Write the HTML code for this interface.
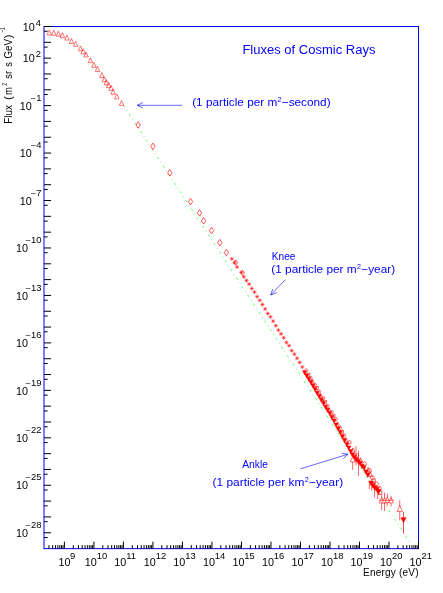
<!DOCTYPE html>
<html><head><meta charset="utf-8"><title>Fluxes of Cosmic Rays</title>
<style>
html,body{margin:0;padding:0;background:#fff;}
svg{display:block;font-family:"Liberation Sans",sans-serif;will-change:transform;}
</style></head><body>
<svg width="443" height="593" viewBox="0 0 443 593">
<rect width="443" height="593" fill="#fff"/>
<line x1="123.5" y1="105.30" x2="410" y2="542.64" stroke="#00ff00" stroke-width="0.9" stroke-dasharray="2.4 3.4 1 3.5" opacity="0.7"/>
<path d="M47.05 34.95L51.55 34.95L49.30 29.96Z" fill="none" stroke="#ff0000" stroke-width="0.55"/>
<path d="M51.55 35.25L56.05 35.25L53.80 30.26Z" fill="none" stroke="#ff0000" stroke-width="0.55"/>
<path d="M56.15 36.15L60.65 36.15L58.40 31.16Z" fill="none" stroke="#ff0000" stroke-width="0.55"/>
<path d="M60.15 37.75L64.65 37.75L62.40 32.76Z" fill="none" stroke="#ff0000" stroke-width="0.55"/>
<path d="M64.65 40.05L69.15 40.05L66.90 35.06Z" fill="none" stroke="#ff0000" stroke-width="0.55"/>
<path d="M69.25 43.45L73.75 43.45L71.50 38.46Z" fill="none" stroke="#ff0000" stroke-width="0.55"/>
<path d="M73.45 46.35L77.95 46.35L75.70 41.36Z" fill="none" stroke="#ff0000" stroke-width="0.55"/>
<path d="M78.25 50.85L82.75 50.85L80.50 45.86Z" fill="none" stroke="#ff0000" stroke-width="0.55"/>
<path d="M80.95 53.85L85.45 53.85L83.20 48.86Z" fill="none" stroke="#ff0000" stroke-width="0.55"/>
<path d="M83.85 56.95L88.35 56.95L86.10 51.96Z" fill="none" stroke="#ff0000" stroke-width="0.55"/>
<path d="M88.15 62.65L92.65 62.65L90.40 57.66Z" fill="none" stroke="#ff0000" stroke-width="0.55"/>
<path d="M91.75 67.35L96.25 67.35L94.00 62.36Z" fill="none" stroke="#ff0000" stroke-width="0.55"/>
<path d="M95.35 71.45L99.85 71.45L97.60 66.46Z" fill="none" stroke="#ff0000" stroke-width="0.55"/>
<path d="M99.65 77.55L104.15 77.55L101.90 72.56Z" fill="none" stroke="#ff0000" stroke-width="0.55"/>
<path d="M102.15 81.75L106.65 81.75L104.40 76.76Z" fill="none" stroke="#ff0000" stroke-width="0.55"/>
<path d="M104.15 84.75L108.65 84.75L106.40 79.76Z" fill="none" stroke="#ff0000" stroke-width="0.55"/>
<path d="M106.45 87.45L110.95 87.45L108.70 82.46Z" fill="none" stroke="#ff0000" stroke-width="0.55"/>
<path d="M108.75 90.35L113.25 90.35L111.00 85.36Z" fill="none" stroke="#ff0000" stroke-width="0.55"/>
<path d="M110.95 94.25L115.45 94.25L113.20 89.26Z" fill="none" stroke="#ff0000" stroke-width="0.55"/>
<path d="M114.55 98.85L119.05 98.85L116.80 93.86Z" fill="none" stroke="#ff0000" stroke-width="0.55"/>
<path d="M119.35 105.45L123.85 105.45L121.60 100.46Z" fill="none" stroke="#ff0000" stroke-width="0.55"/>
<path d="M136.02 125.00L138.20 121.70L140.38 125.00L138.20 128.30Z" fill="none" stroke="#ff0000" stroke-width="0.65"/>
<path d="M150.72 146.40L152.90 143.10L155.08 146.40L152.90 149.70Z" fill="none" stroke="#ff0000" stroke-width="0.65"/>
<path d="M167.62 172.80L169.80 169.50L171.98 172.80L169.80 176.10Z" fill="none" stroke="#ff0000" stroke-width="0.65"/>
<path d="M188.32 201.60L190.50 198.30L192.68 201.60L190.50 204.90Z" fill="none" stroke="#ff0000" stroke-width="0.65"/>
<path d="M197.32 212.90L199.50 209.60L201.68 212.90L199.50 216.20Z" fill="none" stroke="#ff0000" stroke-width="0.65"/>
<path d="M201.42 220.80L203.60 217.50L205.78 220.80L203.60 224.10Z" fill="none" stroke="#ff0000" stroke-width="0.65"/>
<path d="M209.32 230.50L211.50 227.20L213.68 230.50L211.50 233.80Z" fill="none" stroke="#ff0000" stroke-width="0.65"/>
<path d="M217.62 242.70L219.80 239.40L221.98 242.70L219.80 246.00Z" fill="none" stroke="#ff0000" stroke-width="0.65"/>
<path d="M224.22 252.50L226.40 249.20L228.58 252.50L226.40 255.80Z" fill="none" stroke="#ff0000" stroke-width="0.65"/>
<path d="M229.80 258.82H233.80M231.80 256.82V260.82M230.40 257.42L233.20 260.22M230.40 260.22L233.20 257.42" stroke="#ff0000" stroke-width="0.55" fill="none"/>
<path d="M232.46 262.57H236.46M234.46 260.57V264.57M233.06 261.17L235.86 263.97M233.06 263.97L235.86 261.17" stroke="#ff0000" stroke-width="0.55" fill="none"/>
<path d="M235.12 266.99H239.12M237.12 264.99V268.99M235.72 265.59L238.52 268.39M235.72 268.39L238.52 265.59" stroke="#ff0000" stroke-width="0.55" fill="none"/>
<path d="M239.18 272.39H243.18M241.18 270.39V274.39M239.78 270.99L242.58 273.79M239.78 273.79L242.58 270.99" stroke="#ff0000" stroke-width="0.55" fill="none"/>
<path d="M241.84 276.77H245.84M243.84 274.77V278.77M242.44 275.37L245.24 278.17M242.44 278.17L245.24 275.37" stroke="#ff0000" stroke-width="0.55" fill="none"/>
<path d="M244.50 280.52H248.50M246.50 278.52V282.52M245.10 279.12L247.90 281.92M245.10 281.92L247.90 279.12" stroke="#ff0000" stroke-width="0.55" fill="none"/>
<path d="M247.16 284.13H251.16M249.16 282.13V286.13M247.76 282.73L250.56 285.53M247.76 285.53L250.56 282.73" stroke="#ff0000" stroke-width="0.55" fill="none"/>
<path d="M249.82 288.50H253.82M251.82 286.50V290.50M250.42 287.10L253.22 289.90M250.42 289.90L253.22 287.10" stroke="#ff0000" stroke-width="0.55" fill="none"/>
<path d="M252.48 292.11H256.48M254.48 290.11V294.11M253.08 290.71L255.88 293.51M253.08 293.51L255.88 290.71" stroke="#ff0000" stroke-width="0.55" fill="none"/>
<path d="M255.14 296.63H259.14M257.14 294.63V298.63M255.74 295.23L258.54 298.03M255.74 298.03L258.54 295.23" stroke="#ff0000" stroke-width="0.55" fill="none"/>
<path d="M257.80 300.38H261.80M259.80 298.38V302.38M258.40 298.98L261.20 301.78M258.40 301.78L261.20 298.98" stroke="#ff0000" stroke-width="0.55" fill="none"/>
<path d="M260.46 304.52H264.46M262.46 302.52V306.52M261.06 303.12L263.86 305.92M261.06 305.92L263.86 303.12" stroke="#ff0000" stroke-width="0.55" fill="none"/>
<path d="M263.12 308.98H267.12M265.12 306.98V310.98M263.72 307.58L266.52 310.38M263.72 310.38L266.52 307.58" stroke="#ff0000" stroke-width="0.55" fill="none"/>
<path d="M265.78 313.50H269.78M267.78 311.50V315.50M266.38 312.10L269.18 314.90M266.38 314.90L269.18 312.10" stroke="#ff0000" stroke-width="0.55" fill="none"/>
<path d="M268.44 316.91H272.44M270.44 314.91V318.91M269.04 315.51L271.84 318.31M269.04 318.31L271.84 315.51" stroke="#ff0000" stroke-width="0.55" fill="none"/>
<path d="M271.10 321.13H275.10M273.10 319.13V323.13M271.70 319.73L274.50 322.53M271.70 322.53L274.50 319.73" stroke="#ff0000" stroke-width="0.55" fill="none"/>
<path d="M273.76 325.65H277.76M275.76 323.65V327.65M274.36 324.25L277.16 327.05M274.36 327.05L277.16 324.25" stroke="#ff0000" stroke-width="0.55" fill="none"/>
<path d="M276.42 330.09H280.42M278.42 328.09V332.09M277.02 328.69L279.82 331.49M277.02 331.49L279.82 328.69" stroke="#ff0000" stroke-width="0.55" fill="none"/>
<path d="M279.08 333.84H283.08M281.08 331.84V335.84M279.68 332.44L282.48 335.24M279.68 335.24L282.48 332.44" stroke="#ff0000" stroke-width="0.55" fill="none"/>
<path d="M281.74 337.78H285.74M283.74 335.78V339.78M282.34 336.38L285.14 339.18M282.34 339.18L285.14 336.38" stroke="#ff0000" stroke-width="0.55" fill="none"/>
<path d="M284.40 342.48H288.40M286.40 340.48V344.48M285.00 341.08L287.80 343.88M285.00 343.88L287.80 341.08" stroke="#ff0000" stroke-width="0.55" fill="none"/>
<path d="M287.06 345.67H291.06M289.06 343.67V347.67M287.66 344.27L290.46 347.07M287.66 347.07L290.46 344.27" stroke="#ff0000" stroke-width="0.55" fill="none"/>
<path d="M289.72 350.60H293.72M291.72 348.60V352.60M290.32 349.20L293.12 352.00M290.32 352.00L293.12 349.20" stroke="#ff0000" stroke-width="0.55" fill="none"/>
<path d="M292.38 354.15H296.38M294.38 352.15V356.15M292.98 352.75L295.78 355.55M292.98 355.55L295.78 352.75" stroke="#ff0000" stroke-width="0.55" fill="none"/>
<path d="M295.04 358.26H299.04M297.04 356.26V360.26M295.64 356.86L298.44 359.66M295.64 359.66L298.44 356.86" stroke="#ff0000" stroke-width="0.55" fill="none"/>
<path d="M297.70 362.51H301.70M299.70 360.51V364.51M298.30 361.11L301.10 363.91M298.30 363.91L301.10 361.11" stroke="#ff0000" stroke-width="0.55" fill="none"/>
<path d="M300.36 366.97H304.36M302.36 364.97V368.97M300.96 365.57L303.76 368.37M300.96 368.37L303.76 365.57" stroke="#ff0000" stroke-width="0.55" fill="none"/>
<path d="M234.08 262.60L235.80 260.00L237.52 262.60L235.80 265.20Z" fill="none" stroke="#ff0000" stroke-width="0.65"/>
<path d="M240.88 272.80L242.60 270.20L244.32 272.80L242.60 275.40Z" fill="none" stroke="#ff0000" stroke-width="0.65"/>
<circle cx="306.30" cy="370.56" r="1.7" fill="none" stroke="#ff0000" stroke-width="0.55"/>
<path d="M302.50 370.64L306.70 370.64L304.60 374.84Z" fill="#ff0000" stroke="#ff0000" stroke-width="0.5"/>
<rect x="306.80" y="373.17" width="3.0" height="3.0" fill="none" stroke="#ff0000" stroke-width="0.55"/>
<path d="M304.60 373.91L308.80 373.91L306.70 378.11Z" fill="#ff0000" stroke="#ff0000" stroke-width="0.5"/>
<circle cx="310.50" cy="377.94" r="1.7" fill="none" stroke="#ff0000" stroke-width="0.55"/>
<path d="M306.70 377.20L310.90 377.20L308.80 381.40Z" fill="#ff0000" stroke="#ff0000" stroke-width="0.5"/>
<path d="M310.40 383.18L314.20 383.18L312.30 378.96Z" fill="none" stroke="#ff0000" stroke-width="0.55"/>
<path d="M308.80 380.41L313.00 380.41L310.90 384.61Z" fill="#ff0000" stroke="#ff0000" stroke-width="0.5"/>
<circle cx="314.70" cy="384.88" r="1.7" fill="none" stroke="#ff0000" stroke-width="0.55"/>
<path d="M310.90 383.98L315.10 383.98L313.00 388.18Z" fill="#ff0000" stroke="#ff0000" stroke-width="0.5"/>
<rect x="315.20" y="386.68" width="3.0" height="3.0" fill="none" stroke="#ff0000" stroke-width="0.55"/>
<path d="M313.00 387.61L317.20 387.61L315.10 391.81Z" fill="#ff0000" stroke="#ff0000" stroke-width="0.5"/>
<circle cx="318.90" cy="391.67" r="1.7" fill="none" stroke="#ff0000" stroke-width="0.55"/>
<path d="M315.10 391.20L319.30 391.20L317.20 395.40Z" fill="#ff0000" stroke="#ff0000" stroke-width="0.5"/>
<path d="M318.80 397.74L322.60 397.74L320.70 393.52Z" fill="none" stroke="#ff0000" stroke-width="0.55"/>
<path d="M317.20 394.43L321.40 394.43L319.30 398.63Z" fill="#ff0000" stroke="#ff0000" stroke-width="0.5"/>
<circle cx="323.10" cy="398.28" r="1.7" fill="none" stroke="#ff0000" stroke-width="0.55"/>
<path d="M319.30 398.20L323.50 398.20L321.40 402.40Z" fill="#ff0000" stroke="#ff0000" stroke-width="0.5"/>
<rect x="323.60" y="400.71" width="3.0" height="3.0" fill="none" stroke="#ff0000" stroke-width="0.55"/>
<path d="M321.40 401.56L325.60 401.56L323.50 405.76Z" fill="#ff0000" stroke="#ff0000" stroke-width="0.5"/>
<circle cx="327.30" cy="405.78" r="1.7" fill="none" stroke="#ff0000" stroke-width="0.55"/>
<path d="M323.50 405.26L327.70 405.26L325.60 409.46Z" fill="#ff0000" stroke="#ff0000" stroke-width="0.5"/>
<path d="M327.20 411.76L331.00 411.76L329.10 407.54Z" fill="none" stroke="#ff0000" stroke-width="0.55"/>
<path d="M325.60 408.24L329.80 408.24L327.70 412.44Z" fill="#ff0000" stroke="#ff0000" stroke-width="0.5"/>
<circle cx="331.50" cy="412.28" r="1.7" fill="none" stroke="#ff0000" stroke-width="0.55"/>
<path d="M327.70 411.57L331.90 411.57L329.80 415.77Z" fill="#ff0000" stroke="#ff0000" stroke-width="0.5"/>
<rect x="332.00" y="414.17" width="3.0" height="3.0" fill="none" stroke="#ff0000" stroke-width="0.55"/>
<path d="M329.80 415.53L334.00 415.53L331.90 419.73Z" fill="#ff0000" stroke="#ff0000" stroke-width="0.5"/>
<circle cx="335.70" cy="419.18" r="1.7" fill="none" stroke="#ff0000" stroke-width="0.55"/>
<path d="M331.90 419.04L336.10 419.04L334.00 423.24Z" fill="#ff0000" stroke="#ff0000" stroke-width="0.5"/>
<path d="M335.60 426.09L339.40 426.09L337.50 421.87Z" fill="none" stroke="#ff0000" stroke-width="0.55"/>
<path d="M334.00 423.09L338.20 423.09L336.10 427.29Z" fill="#ff0000" stroke="#ff0000" stroke-width="0.5"/>
<circle cx="339.90" cy="427.74" r="1.7" fill="none" stroke="#ff0000" stroke-width="0.55"/>
<path d="M336.10 426.93L340.30 426.93L338.20 431.13Z" fill="#ff0000" stroke="#ff0000" stroke-width="0.5"/>
<rect x="340.40" y="430.17" width="3.0" height="3.0" fill="none" stroke="#ff0000" stroke-width="0.55"/>
<path d="M338.20 430.64L342.40 430.64L340.30 434.84Z" fill="#ff0000" stroke="#ff0000" stroke-width="0.5"/>
<circle cx="344.10" cy="435.37" r="1.7" fill="none" stroke="#ff0000" stroke-width="0.55"/>
<path d="M340.30 434.78L344.50 434.78L342.40 438.98Z" fill="#ff0000" stroke="#ff0000" stroke-width="0.5"/>
<path d="M344.00 441.82L347.80 441.82L345.90 437.60Z" fill="none" stroke="#ff0000" stroke-width="0.55"/>
<path d="M342.40 438.58L346.60 438.58L344.50 442.78Z" fill="#ff0000" stroke="#ff0000" stroke-width="0.5"/>
<path d="M344.75 442.64L349.05 442.64L346.90 446.94Z" fill="#ff0000" stroke="#ff0000" stroke-width="0.5"/>
<circle cx="349.40" cy="442.39" r="1.8" fill="none" stroke="#ff0000" stroke-width="0.6"/>
<path d="M346.65 445.96L350.95 445.96L348.80 450.26Z" fill="#ff0000" stroke="#ff0000" stroke-width="0.5"/>
<path d="M348.55 449.53L352.85 449.53L350.70 453.83Z" fill="#ff0000" stroke="#ff0000" stroke-width="0.5"/>
<path d="M351.00 452.23L355.00 452.23L353.00 447.79Z" fill="none" stroke="#ff0000" stroke-width="0.6"/>
<path d="M350.45 453.12L354.75 453.12L352.60 457.42Z" fill="#ff0000" stroke="#ff0000" stroke-width="0.5"/>
<path d="M352.35 455.38L356.65 455.38L354.50 459.68Z" fill="#ff0000" stroke="#ff0000" stroke-width="0.5"/>
<circle cx="357.00" cy="455.57" r="1.8" fill="none" stroke="#ff0000" stroke-width="0.6"/>
<path d="M354.25 457.79L358.55 457.79L356.40 462.09Z" fill="#ff0000" stroke="#ff0000" stroke-width="0.5"/>
<path d="M356.15 459.73L360.45 459.73L358.30 464.03Z" fill="#ff0000" stroke="#ff0000" stroke-width="0.5"/>
<path d="M358.60 462.14L362.60 462.14L360.60 457.70Z" fill="none" stroke="#ff0000" stroke-width="0.6"/>
<path d="M358.05 461.56L362.35 461.56L360.20 465.86Z" fill="#ff0000" stroke="#ff0000" stroke-width="0.5"/>
<path d="M359.95 464.19L364.25 464.19L362.10 468.49Z" fill="#ff0000" stroke="#ff0000" stroke-width="0.5"/>
<circle cx="364.60" cy="463.74" r="1.8" fill="none" stroke="#ff0000" stroke-width="0.6"/>
<path d="M361.85 465.95L366.15 465.95L364.00 470.25Z" fill="#ff0000" stroke="#ff0000" stroke-width="0.5"/>
<path d="M363.75 469.91L368.05 469.91L365.90 474.21Z" fill="#ff0000" stroke="#ff0000" stroke-width="0.5"/>
<path d="M366.20 471.91L370.20 471.91L368.20 467.47Z" fill="none" stroke="#ff0000" stroke-width="0.6"/>
<path d="M365.65 473.03L369.95 473.03L367.80 477.33Z" fill="#ff0000" stroke="#ff0000" stroke-width="0.5"/>
<circle cx="369.60" cy="470.60" r="1.9" fill="none" stroke="#ff0000" stroke-width="0.6"/>
<circle cx="372.30" cy="477.60" r="1.9" fill="none" stroke="#ff0000" stroke-width="0.6"/>
<path d="M368.60 476.68L372.60 476.68L370.60 472.24Z" fill="none" stroke="#ff0000" stroke-width="0.6"/>
<rect x="372.00" y="479.00" width="3.2" height="3.2" fill="none" stroke="#ff0000" stroke-width="0.6"/>
<path d="M368.80 481.04L373.60 481.04L371.20 485.84Z" fill="#ff0000" stroke="#ff0000" stroke-width="0.5"/>
<path d="M370.60 483.44L375.40 483.44L373.00 488.24Z" fill="#ff0000" stroke="#ff0000" stroke-width="0.5"/>
<path d="M372.50 485.74L377.30 485.74L374.90 490.54Z" fill="#ff0000" stroke="#ff0000" stroke-width="0.5"/>
<path d="M374.60 487.24L379.40 487.24L377.00 492.04Z" fill="#ff0000" stroke="#ff0000" stroke-width="0.5"/>
<path d="M376.20 489.44L381.00 489.44L378.60 494.24Z" fill="#ff0000" stroke="#ff0000" stroke-width="0.5"/>
<circle cx="376.60" cy="483.80" r="1.9" fill="none" stroke="#ff0000" stroke-width="0.6"/>
<circle cx="379.40" cy="488.30" r="1.9" fill="none" stroke="#ff0000" stroke-width="0.6"/>
<rect x="378.50" y="490.90" width="3.4" height="3.4" fill="none" stroke="#ff0000" stroke-width="0.6"/>
<line x1="352.70" y1="456.30" x2="352.70" y2="469.80" stroke="#ff0000" stroke-width="0.6"/>
<line x1="356.00" y1="446.00" x2="356.00" y2="465.00" stroke="#ff0000" stroke-width="0.6"/>
<line x1="358.50" y1="451.00" x2="358.50" y2="476.00" stroke="#ff0000" stroke-width="0.6"/>
<line x1="369.30" y1="481.00" x2="369.30" y2="489.00" stroke="#ff0000" stroke-width="0.6"/>
<line x1="371.70" y1="484.00" x2="371.70" y2="491.00" stroke="#ff0000" stroke-width="0.6"/>
<line x1="374.60" y1="488.00" x2="374.60" y2="497.50" stroke="#ff0000" stroke-width="0.6"/>
<line x1="377.70" y1="491.00" x2="377.70" y2="499.00" stroke="#ff0000" stroke-width="0.6"/>
<line x1="381.70" y1="494.70" x2="381.70" y2="510.00" stroke="#ff0000" stroke-width="0.6"/>
<line x1="384.50" y1="492.50" x2="384.50" y2="511.00" stroke="#ff0000" stroke-width="0.6"/>
<line x1="387.30" y1="493.50" x2="387.30" y2="506.00" stroke="#ff0000" stroke-width="0.6"/>
<line x1="391.00" y1="496.00" x2="391.00" y2="506.50" stroke="#ff0000" stroke-width="0.6"/>
<path d="M350.30 461.92L355.10 461.92L352.70 456.59Z" fill="#ffffff" stroke="#ff0000" stroke-width="0.55"/>
<path d="M379.30 502.92L384.10 502.92L381.70 497.59Z" fill="#ffffff" stroke="#ff0000" stroke-width="0.55"/>
<path d="M382.10 502.92L386.90 502.92L384.50 497.59Z" fill="#ffffff" stroke="#ff0000" stroke-width="0.55"/>
<path d="M384.90 502.32L389.70 502.32L387.30 496.99Z" fill="#ffffff" stroke="#ff0000" stroke-width="0.55"/>
<path d="M388.60 502.92L393.40 502.92L391.00 497.59Z" fill="#ffffff" stroke="#ff0000" stroke-width="0.55"/>
<line x1="379" y1="500.3" x2="394.0" y2="500.3" stroke="#ff0000" stroke-width="0.6"/>
<line x1="399.75" y1="500.20" x2="399.75" y2="520.50" stroke="#ff0000" stroke-width="0.6"/>
<path d="M397.05 511.54L402.45 511.54L399.75 505.55Z" fill="#ffffff" stroke="#ff0000" stroke-width="0.55"/>
<line x1="403.50" y1="512.00" x2="403.50" y2="533.50" stroke="#ff0000" stroke-width="0.7"/>
<path d="M401.00 517.65L406.00 517.65L403.50 522.65Z" fill="#ff0000" stroke="#ff0000" stroke-width="0.6"/>
<rect x="44.0" y="26.5" width="374.5" height="522.15" fill="none" stroke="#0000ff" stroke-width="1"/>
<path d="M44.0 26.50h7.1M44.0 31.26h3.7M44.0 42.32h7.1M44.0 47.08h3.7M44.0 58.14h7.1M44.0 62.90h3.7M44.0 73.96h7.1M44.0 78.72h3.7M44.0 89.78h7.1M44.0 94.54h3.7M44.0 105.60h7.1M44.0 110.36h3.7M44.0 121.42h7.1M44.0 126.18h3.7M44.0 137.24h7.1M44.0 142.00h3.7M44.0 153.06h7.1M44.0 157.82h3.7M44.0 168.88h7.1M44.0 173.64h3.7M44.0 184.70h7.1M44.0 189.46h3.7M44.0 200.52h7.1M44.0 205.28h3.7M44.0 216.34h7.1M44.0 221.10h3.7M44.0 232.16h7.1M44.0 236.92h3.7M44.0 247.98h7.1M44.0 252.74h3.7M44.0 263.80h7.1M44.0 268.56h3.7M44.0 279.62h7.1M44.0 284.38h3.7M44.0 295.44h7.1M44.0 300.20h3.7M44.0 311.26h7.1M44.0 316.02h3.7M44.0 327.08h7.1M44.0 331.84h3.7M44.0 342.90h7.1M44.0 347.66h3.7M44.0 358.72h7.1M44.0 363.48h3.7M44.0 374.54h7.1M44.0 379.30h3.7M44.0 390.36h7.1M44.0 395.12h3.7M44.0 406.18h7.1M44.0 410.94h3.7M44.0 422.00h7.1M44.0 426.76h3.7M44.0 437.82h7.1M44.0 442.58h3.7M44.0 453.64h7.1M44.0 458.40h3.7M44.0 469.46h7.1M44.0 474.22h3.7M44.0 485.28h7.1M44.0 490.04h3.7M44.0 501.10h7.1M44.0 505.86h3.7M44.0 516.92h7.1M44.0 521.68h3.7M44.0 532.74h7.1M44.0 537.50h3.7M48.97 548.65v-3.5M52.66 548.65v-3.5M55.52 548.65v-3.5M57.85 548.65v-3.5M59.83 548.65v-3.5M61.54 548.65v-3.5M63.05 548.65v-3.5M64.40 548.65v-7M73.28 548.65v-3.5M78.48 548.65v-3.5M82.17 548.65v-3.5M85.03 548.65v-3.5M87.36 548.65v-3.5M89.34 548.65v-3.5M91.05 548.65v-3.5M92.56 548.65v-3.5M93.91 548.65v-7M102.79 548.65v-3.5M107.99 548.65v-3.5M111.68 548.65v-3.5M114.54 548.65v-3.5M116.87 548.65v-3.5M118.85 548.65v-3.5M120.56 548.65v-3.5M122.07 548.65v-3.5M123.42 548.65v-7M132.30 548.65v-3.5M137.50 548.65v-3.5M141.19 548.65v-3.5M144.05 548.65v-3.5M146.38 548.65v-3.5M148.36 548.65v-3.5M150.07 548.65v-3.5M151.58 548.65v-3.5M152.93 548.65v-7M161.81 548.65v-3.5M167.01 548.65v-3.5M170.70 548.65v-3.5M173.56 548.65v-3.5M175.89 548.65v-3.5M177.87 548.65v-3.5M179.58 548.65v-3.5M181.09 548.65v-3.5M182.44 548.65v-7M191.32 548.65v-3.5M196.52 548.65v-3.5M200.21 548.65v-3.5M203.07 548.65v-3.5M205.40 548.65v-3.5M207.38 548.65v-3.5M209.09 548.65v-3.5M210.60 548.65v-3.5M211.95 548.65v-7M220.83 548.65v-3.5M226.03 548.65v-3.5M229.72 548.65v-3.5M232.58 548.65v-3.5M234.91 548.65v-3.5M236.89 548.65v-3.5M238.60 548.65v-3.5M240.11 548.65v-3.5M241.46 548.65v-7M250.34 548.65v-3.5M255.54 548.65v-3.5M259.23 548.65v-3.5M262.09 548.65v-3.5M264.42 548.65v-3.5M266.40 548.65v-3.5M268.11 548.65v-3.5M269.62 548.65v-3.5M270.97 548.65v-7M279.85 548.65v-3.5M285.05 548.65v-3.5M288.74 548.65v-3.5M291.60 548.65v-3.5M293.93 548.65v-3.5M295.91 548.65v-3.5M297.62 548.65v-3.5M299.13 548.65v-3.5M300.48 548.65v-7M309.36 548.65v-3.5M314.56 548.65v-3.5M318.25 548.65v-3.5M321.11 548.65v-3.5M323.44 548.65v-3.5M325.42 548.65v-3.5M327.13 548.65v-3.5M328.64 548.65v-3.5M329.99 548.65v-7M338.87 548.65v-3.5M344.07 548.65v-3.5M347.76 548.65v-3.5M350.62 548.65v-3.5M352.95 548.65v-3.5M354.93 548.65v-3.5M356.64 548.65v-3.5M358.15 548.65v-3.5M359.50 548.65v-7M368.38 548.65v-3.5M373.58 548.65v-3.5M377.27 548.65v-3.5M380.13 548.65v-3.5M382.46 548.65v-3.5M384.44 548.65v-3.5M386.15 548.65v-3.5M387.66 548.65v-3.5M389.01 548.65v-7M397.89 548.65v-3.5M403.09 548.65v-3.5M406.78 548.65v-3.5M409.64 548.65v-3.5M411.97 548.65v-3.5M413.95 548.65v-3.5M415.66 548.65v-3.5M417.17 548.65v-3.5M418.52 548.65v-7" stroke="#000" stroke-width="1" fill="none"/>
<text x="34.85" y="30.70" text-anchor="end" font-size="10.8" >10</text><text transform="translate(41.10,25.60) scale(1.15,1)" text-anchor="end" font-size="8.2">4</text>
<text x="34.85" y="62.34" text-anchor="end" font-size="10.8" >10</text><text transform="translate(41.10,57.24) scale(1.15,1)" text-anchor="end" font-size="8.2">2</text>
<text x="31.70" y="109.80" text-anchor="end" font-size="10.8" >10</text><text transform="translate(41.60,100.80) scale(1.15,1)" text-anchor="end" font-size="8.2">−1</text>
<text x="31.70" y="157.26" text-anchor="end" font-size="10.8" >10</text><text transform="translate(41.60,148.26) scale(1.15,1)" text-anchor="end" font-size="8.2">−4</text>
<text x="31.70" y="204.72" text-anchor="end" font-size="10.8" >10</text><text transform="translate(41.60,195.72) scale(1.15,1)" text-anchor="end" font-size="8.2">−7</text>
<text x="28.05" y="252.18" text-anchor="end" font-size="10.8" >10</text><text transform="translate(41.60,243.18) scale(1.15,1)" text-anchor="end" font-size="8.2">−10</text>
<text x="28.05" y="299.64" text-anchor="end" font-size="10.8" >10</text><text transform="translate(41.60,290.64) scale(1.15,1)" text-anchor="end" font-size="8.2">−13</text>
<text x="28.05" y="347.10" text-anchor="end" font-size="10.8" >10</text><text transform="translate(41.60,338.10) scale(1.15,1)" text-anchor="end" font-size="8.2">−16</text>
<text x="28.05" y="394.56" text-anchor="end" font-size="10.8" >10</text><text transform="translate(41.60,385.56) scale(1.15,1)" text-anchor="end" font-size="8.2">−19</text>
<text x="28.05" y="442.02" text-anchor="end" font-size="10.8" >10</text><text transform="translate(41.60,433.02) scale(1.15,1)" text-anchor="end" font-size="8.2">−22</text>
<text x="28.05" y="489.48" text-anchor="end" font-size="10.8" >10</text><text transform="translate(41.60,480.48) scale(1.15,1)" text-anchor="end" font-size="8.2">−25</text>
<text x="28.05" y="536.94" text-anchor="end" font-size="10.8" >10</text><text transform="translate(41.60,527.94) scale(1.15,1)" text-anchor="end" font-size="8.2">−28</text>
<text x="70.55" y="565.70" text-anchor="end" font-size="10.8" >10</text><text transform="translate(69.90,558.80) scale(1.15,1)" font-size="8.2">9</text>
<text x="96.86" y="565.70" text-anchor="end" font-size="10.8" >10</text><text transform="translate(96.81,558.80) scale(1.15,1)" font-size="8.2">10</text>
<text x="126.37" y="565.70" text-anchor="end" font-size="10.8" >10</text><text transform="translate(126.32,558.80) scale(1.15,1)" font-size="8.2">11</text>
<text x="155.88" y="565.70" text-anchor="end" font-size="10.8" >10</text><text transform="translate(155.83,558.80) scale(1.15,1)" font-size="8.2">12</text>
<text x="185.39" y="565.70" text-anchor="end" font-size="10.8" >10</text><text transform="translate(185.34,558.80) scale(1.15,1)" font-size="8.2">13</text>
<text x="214.90" y="565.70" text-anchor="end" font-size="10.8" >10</text><text transform="translate(214.85,558.80) scale(1.15,1)" font-size="8.2">14</text>
<text x="244.41" y="565.70" text-anchor="end" font-size="10.8" >10</text><text transform="translate(244.36,558.80) scale(1.15,1)" font-size="8.2">15</text>
<text x="273.92" y="565.70" text-anchor="end" font-size="10.8" >10</text><text transform="translate(273.87,558.80) scale(1.15,1)" font-size="8.2">16</text>
<text x="303.43" y="565.70" text-anchor="end" font-size="10.8" >10</text><text transform="translate(303.38,558.80) scale(1.15,1)" font-size="8.2">17</text>
<text x="332.94" y="565.70" text-anchor="end" font-size="10.8" >10</text><text transform="translate(332.89,558.80) scale(1.15,1)" font-size="8.2">18</text>
<text x="362.45" y="565.70" text-anchor="end" font-size="10.8" >10</text><text transform="translate(362.40,558.80) scale(1.15,1)" font-size="8.2">19</text>
<text x="391.96" y="565.70" text-anchor="end" font-size="10.8" >10</text><text transform="translate(391.91,558.80) scale(1.15,1)" font-size="8.2">20</text>
<text x="421.47" y="565.70" text-anchor="end" font-size="10.8" >10</text><text transform="translate(421.42,558.80) scale(1.15,1)" font-size="8.2">21</text>
<text x="363.0" y="575.8" font-size="10" textLength="55.6" lengthAdjust="spacing">Energy (eV)</text>
<g transform="translate(11.7,124.0) rotate(-90)"><text transform="translate(0.30,0.00) scale(0.9854,1)" font-size="10">Flux</text><text transform="translate(24.00,0.00) scale(1.1170,1)" font-size="10">(</text><text transform="translate(29.10,0.00) scale(0.9383,1)" font-size="10">m</text><text transform="translate(38.30,-5.00) scale(0.7724,1)" font-size="6.5">2</text><text transform="translate(45.30,0.00) scale(0.9263,1)" font-size="10">sr</text><text transform="translate(57.20,0.00) scale(0.9200,1)" font-size="10">s</text><text transform="translate(65.50,0.00) scale(0.9750,1)" font-size="10">GeV</text><text transform="translate(85.60,0.00) scale(1.2075,1)" font-size="10">)</text><text transform="translate(91.50,-6.50) scale(0.6375,1)" font-size="7">−1</text></g>
<text transform="translate(242.40,53.50) scale(1.0012,1)" font-size="13" fill="#0000ff">Fluxes of Cosmic Rays</text>
<text transform="translate(192.20,106.10) scale(1.0251,1)" font-size="11.5" fill="#0000ff">(1 particle per m<tspan font-size="7" dx="0.3" dy="-4.6">2</tspan><tspan dx="0.3" dy="4.6">−second)</tspan></text>
<text transform="translate(271.70,259.50) scale(0.8856,1)" font-size="11.5" fill="#0000ff">Knee</text>
<text transform="translate(271.30,273.40) scale(1.0281,1)" font-size="11.5" fill="#0000ff">(1 particle per m<tspan font-size="7" dx="0.3" dy="-4.6">2</tspan><tspan dx="0.3" dy="4.6">−year)</tspan></text>
<text transform="translate(242.20,467.80) scale(0.8939,1)" font-size="11.5" fill="#0000ff">Ankle</text>
<text transform="translate(212.60,486.20) scale(1.0351,1)" font-size="11.5" fill="#0000ff">(1 particle per km<tspan font-size="7" dx="0.3" dy="-4.6">2</tspan><tspan dx="0.3" dy="4.6">−year)</tspan></text>
<path d="M182.2 105.3L137.1 105.3M142.90 108.00L137.1 105.3L142.90 102.60" stroke="#0000ff" stroke-width="0.6" fill="none"/>
<path d="M285.4 279.6L270.7 295.0M276.66 292.67L270.7 295.0L272.75 288.94" stroke="#0000ff" stroke-width="0.6" fill="none"/>
<path d="M300.4 468.9L348.0 454.2M341.66 453.33L348.0 454.2L343.25 458.49" stroke="#0000ff" stroke-width="0.6" fill="none"/>
</svg>
</body></html>
